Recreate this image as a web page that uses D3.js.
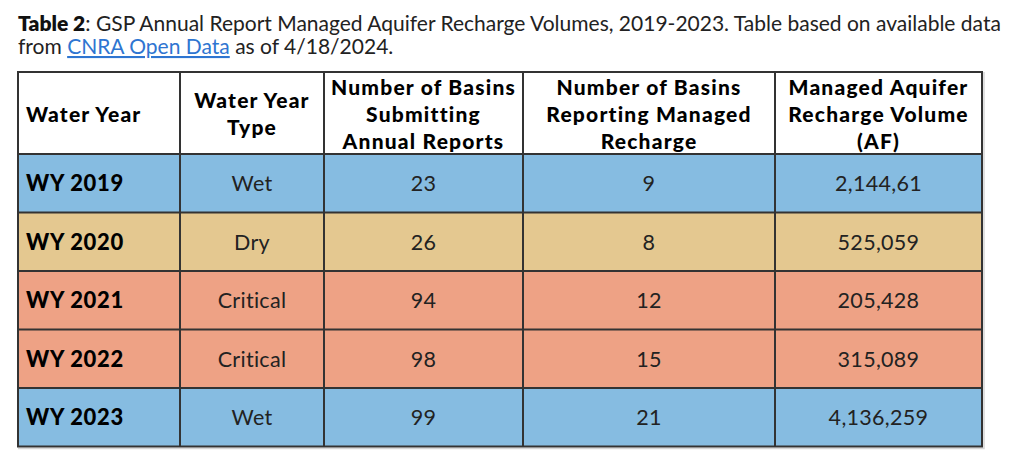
<!DOCTYPE html>
<html>
<head>
<meta charset="utf-8">
<script src="https://cdn.jsdelivr.net/npm/d3@7"></script>
<style>
  body { margin: 0; background: #fff; }
  svg text { font-family: Lato, "Open Sans", sans-serif; }
</style>
</head>
<body>
<div id="table"></div>
<script>
// Table content
var headers = [
  ["Water Year"],
  ["Water Year", "Type"],
  ["Number of Basins", "Submitting", "Annual Reports"],
  ["Number of Basins", "Reporting Managed", "Recharge"],
  ["Managed Aquifer", "Recharge Volume", "(AF)"]
];
var waterYears = ["WY 2019", "WY 2020", "WY 2021", "WY 2022", "WY 2023"];
var yearTypes = ["Wet", "Dry", "Critical", "Critical", "Wet"];
var basinsSubmitting = [23, 26, 94, 98, 99];
var basinsRecharge = [9, 8, 12, 15, 21];
var rechargeVolume = ["2,144,61", "525,059", "205,428", "315,089", "4,136,259"];

// Colours per water year type
var typeColor = d3.scaleOrdinal()
  .domain(["Wet", "Dry", "Critical"])
  .range(["#86bce1", "#e4c890", "#eea285"]);

var svgWidth = 1024;
var svgHeight = 464;

// table frame
var tLeft = 18, tTop = 72, headerBottom = 154, tBottom = 446.5;
var colEdges = [18, 180, 324, 523, 775, 982];
var lineH = 27;

var svg = d3.select("#table")
  .append("svg")
  .attr("width", svgWidth)
  .attr("height", svgHeight);

// Title
var title = svg.append("text")
  .attr("x", tLeft)
  .attr("y", 31)
  .attr("font-size", 21)
  .attr("fill", "#222");
title.append("tspan").attr("font-weight", 800).attr("fill", "#111").text("Table 2");
title.append("tspan").text(": GSP Annual Report Managed Aquifer Recharge Volumes, 2019-2023. Table based on available data");

var title2 = svg.append("text")
  .attr("x", tLeft)
  .attr("y", 54)
  .attr("font-size", 21)
  .attr("fill", "#222");
title2.append("tspan").text("from ");
title2.append("tspan")
  .attr("fill", "#2e75d1")
  .attr("text-decoration", "underline")
  .text("CNRA Open Data");
title2.append("tspan").text(" as of 4/18/2024.");

// Row scale
var y = d3.scaleBand()
  .domain(waterYears)
  .range([headerBottom, tBottom]);

var colCenter = function(i) { return (colEdges[i] + colEdges[i + 1]) / 2; };

var rows = waterYears.map(function(wy, i) {
  return [wy, yearTypes[i], basinsSubmitting[i], basinsRecharge[i], rechargeVolume[i]];
});

// faint shadow on right & bottom
svg.append("path")
  .attr("d", `M${colEdges[5] + 2},${tTop} V${tBottom + 2} H${tLeft}`)
  .attr("fill", "none")
  .attr("stroke", "#d6d6d6")
  .attr("stroke-width", 1.5);

// header background
svg.append("rect")
  .attr("x", tLeft).attr("y", tTop)
  .attr("width", colEdges[5] - tLeft).attr("height", headerBottom - tTop)
  .attr("fill", "#fff");

// row backgrounds
svg.append("g")
  .selectAll("rect")
  .data(waterYears)
  .enter()
  .append("rect")
  .attr("x", tLeft)
  .attr("y", d => y(d))
  .attr("width", colEdges[5] - tLeft)
  .attr("height", y.bandwidth())
  .attr("fill", (d, i) => typeColor(yearTypes[i]));

// header text
var hc = (tTop + headerBottom) / 2 + 1;
headers.forEach(function(lines, c) {
  var t = svg.append("text")
    .attr("font-size", 21)
    .attr("font-weight", 900)
    .attr("letter-spacing", 1.2)
    .attr("fill", "#000")
    .attr("text-anchor", c === 0 ? "start" : "middle");
  lines.forEach(function(line, k) {
    t.append("tspan")
      .attr("x", c === 0 ? 26 : colCenter(c))
      .attr("y", hc + (k - (lines.length - 1) / 2) * lineH + 7.5)
      .text(line);
  });
});

// body text
var rowG = svg.append("g")
  .selectAll("g")
  .data(rows)
  .enter()
  .append("g")
  .attr("transform", (d, i) => `translate(0, ${y(waterYears[i]) + y.bandwidth() / 2 + 8})`);

rowG.selectAll("text")
  .data(d => d)
  .enter()
  .append("text")
  .attr("x", (d, c) => c === 0 ? 26 : colCenter(c))
  .attr("text-anchor", (d, c) => c === 0 ? "start" : "middle")
  .attr("font-size", (d, c) => c === 0 ? 22 : 21.5)
  .attr("font-weight", (d, c) => c === 0 ? 900 : 400)
  .attr("letter-spacing", (d, c) => c === 0 ? 0.7 : 0.3)
  .attr("fill", (d, c) => c === 0 ? "#000" : "#222")
  .text(d => d);

// grid lines
var grid = svg.append("g")
  .attr("stroke", "#333")
  .attr("stroke-width", 2);

grid.selectAll(".h")
  .data([tTop, headerBottom].concat(waterYears.map(d => y(d) + y.bandwidth())))
  .enter()
  .append("line")
  .attr("x1", tLeft - 1).attr("x2", colEdges[5] + 1)
  .attr("y1", d => d).attr("y2", d => d);

grid.selectAll(".v")
  .data(colEdges)
  .enter()
  .append("line")
  .attr("x1", d => d).attr("x2", d => d)
  .attr("y1", tTop).attr("y2", tBottom);
</script>
</body>
</html>
